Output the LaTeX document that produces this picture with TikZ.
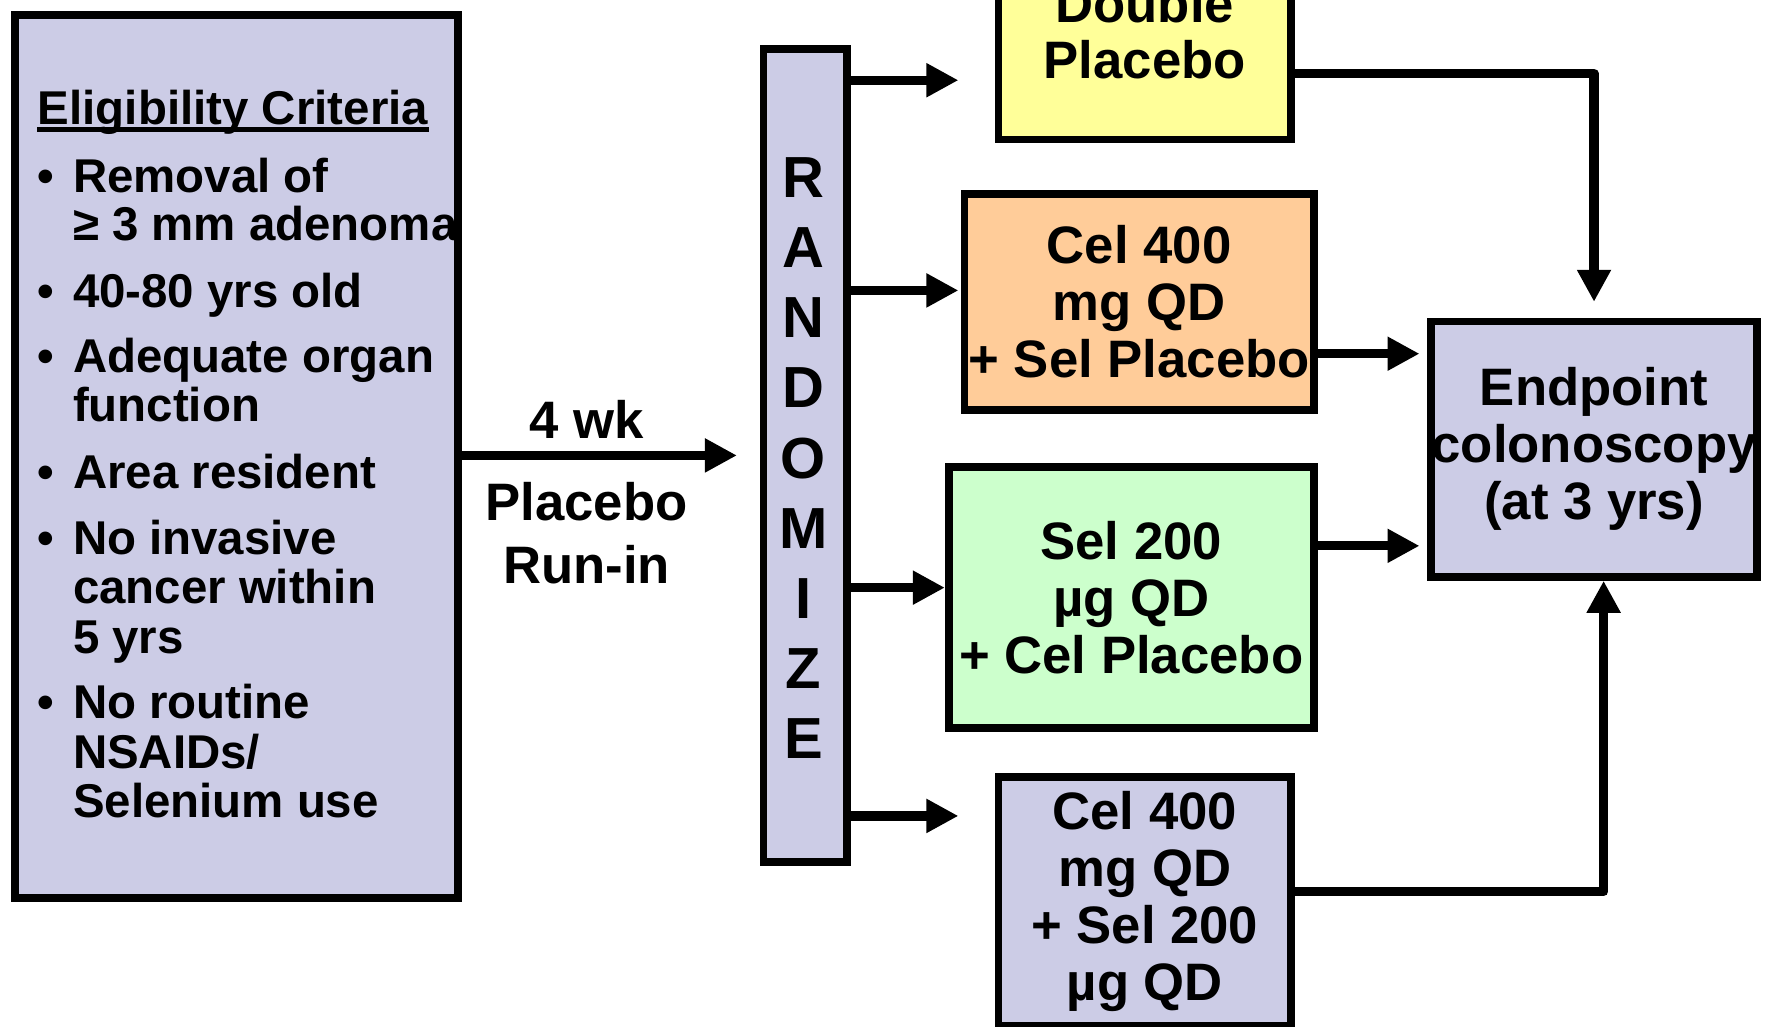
\documentclass[tikz,border=0pt]{standalone}
\usepackage{fontspec}
\setmainfont{Liberation Sans}
\usetikzlibrary{arrows.meta}
\definecolor{boxlav}{RGB}{204,204,230}
\definecolor{boxylw}{RGB}{255,255,153}
\definecolor{boxorg}{RGB}{255,204,153}
\definecolor{boxgrn}{RGB}{204,255,204}
\newcommand{\pu}{0.011301cm}

\begin{document}
\begin{tikzpicture}[x=\pu,y=-\pu,
    box/.style={draw,line width=2.2pt,inner sep=0pt,align=center,
      font=\bfseries\fontsize{15}{16.2}\selectfont},
    arr/.style={line width=2.65pt,line join=round,
      -{Triangle[length=0.32cm,width=0.32cm]}},
    crit/.style={anchor=base west,inner sep=0pt,
      font=\bfseries\fontsize{13.5}{14}\selectfont},
    rlet/.style={inner sep=0pt,font=\bfseries\fontsize{16.5}{17}\selectfont},
    lbl/.style={align=center,inner sep=0pt,
      font=\bfseries\fontsize{15}{18}\selectfont}]
        \useasboundingbox (0,0) rectangle (1568,908);
        % eligibility box
        \node[box,fill=boxlav,minimum width=392*\pu,minimum height=781*\pu] (elig) at (209.5,404) {};
        \node[crit] (crit-t) at (33,110) {Eligibility Criteria};
        \draw[line width=1.3pt] ([yshift=-1.5pt]crit-t.base west) -- ([yshift=-1.5pt]crit-t.base east);
        \foreach \y [count=\i] in {170,272,330,432,491,636}
            \node[crit] (bul-\i) at (33,\y) {•};
        \foreach \y/\t [count=\i] in {170/{Removal of},213/{≥ 3 mm adenoma},272/{40-80 yrs old},
            330/{Adequate organ},373/{function},432/{Area resident},491/{No invasive},
            534/{cancer within},578/{5 yrs},636/{No routine},680/{NSAIDs/},723/{Selenium use}}
            \node[crit] (crit-\i) at (64,\y) {\t};
        % randomize
        \node[box,fill=boxlav,minimum width=74*\pu,minimum height=719*\pu] (rand) at (712.5,403) {};
        \foreach \l [count=\i from 0] in {R,A,N,D,O,M,I,Z,E}
            \node[rlet] (r-\l) at (711,{157+62.1*\i}) {\l};
        % arms
        \node[box,fill=boxylw,minimum width=259*\pu,minimum height=191*\pu] (dbl) at (1013,28) {Double\\Placebo};
        \node[box,fill=boxorg,minimum width=309*\pu,minimum height=191*\pu] (cel) at (1008,267) {Cel 400\\mg QD\\+ Sel Placebo};
        \node[box,fill=boxgrn,minimum width=323*\pu,minimum height=231*\pu] (sel) at (1001,529) {Sel 200\\µg QD\\+ Cel Placebo};
        \node[box,fill=boxlav,minimum width=259*\pu,minimum height=220*\pu] (combo) at (1013,797.5) {Cel 400\\mg QD\\+ Sel 200\\µg QD};
        \node[box,fill=boxlav,minimum width=288*\pu,minimum height=226*\pu] (endp) at (1410.5,397.5) {Endpoint\\colonoscopy\\(at 3 yrs)};
        % run-in
        \draw[arr,shorten >=20*\pu] (elig.east |- rand.west) -- (rand.west);
        \node[lbl] (wk) at (519,371) {4 wk};
        \node[lbl] (runin) at (519,472) {Placebo\\Run-in};
        % randomize to arms
        \draw[arr,shorten >=32*\pu] (rand.east |- 0,71) -- (dbl.west |- 0,71);
        \draw[arr,shorten >=2*\pu] (rand.east |- 0,257) -- (cel.west |- 0,257);
        \draw[arr] (rand.east |- 0,520) -- (sel.west |- 0,520);
        \draw[arr,shorten >=32*\pu] (rand.east |- 0,722) -- (combo.west |- 0,722);
        % arms to endpoint
        \draw[arr,shorten >=14*\pu] (dbl.east |- 0,65) -| (endp.north);
        \draw[arr,shorten >=7*\pu] (cel.east |- 0,313) -- (endp.west |- 0,313);
        \draw[arr,shorten >=7*\pu] (sel.east |- 0,483) -- (endp.west |- 0,483);
        \draw[arr] (combo.east |- 0,789) -| (endp.south -| 1419,0);
\end{tikzpicture}
\end{document}
